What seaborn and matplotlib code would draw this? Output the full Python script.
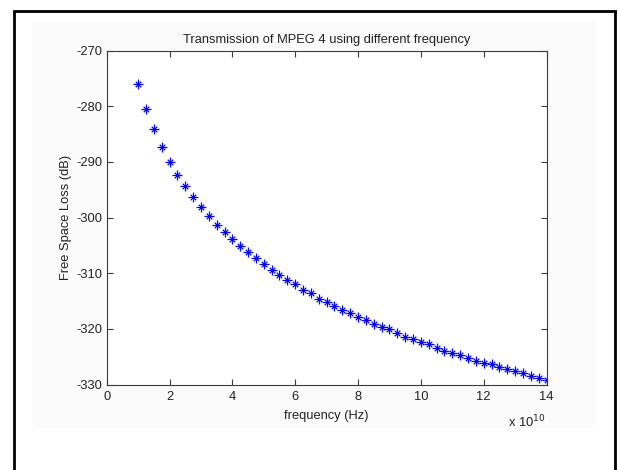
import matplotlib
matplotlib.use("Agg")
import matplotlib.pyplot as plt
import seaborn as sns
from matplotlib.patches import Rectangle

# frequency in units of 1e10 Hz
freq_e10 = [1.00, 1.25, 1.50, 1.75, 2.00, 2.25, 2.50, 2.75, 3.00, 3.25,
            3.50, 3.75, 4.00, 4.25, 4.50, 4.75, 5.00, 5.25, 5.50, 5.75,
            6.00, 6.25, 6.50, 6.75, 7.00, 7.25, 7.50, 7.75, 8.00, 8.25,
            8.50, 8.75, 9.00, 9.25, 9.50, 9.75, 10.00, 10.25, 10.50, 10.75,
            11.00, 11.25, 11.50, 11.75, 12.00, 12.25, 12.50, 12.75, 13.00, 13.25,
            13.50, 13.75, 14.00]
loss_db = [-276.0, -280.5, -284.1, -287.3, -290.0, -292.3, -294.3, -296.4, -298.1, -299.7,
           -301.3, -302.6, -303.9, -305.2, -306.2, -307.3, -308.3, -309.4, -310.4, -311.2,
           -312.0, -313.0, -313.6, -314.6, -315.2, -315.9, -316.6, -317.1, -317.9, -318.4,
           -319.2, -319.6, -320.1, -320.7, -321.4, -321.8, -322.3, -322.8, -323.4, -323.9,
           -324.3, -324.7, -325.2, -325.7, -326.1, -326.4, -326.9, -327.3, -327.6, -328.0,
           -328.5, -328.8, -329.2]

x_ticks = [0, 2, 4, 6, 8, 10, 12, 14]
y_ticks = [-330, -320, -310, -300, -290, -280, -270]

sns.set_style("ticks")
plt.rcParams['font.family'] = ['Liberation Sans', 'DejaVu Sans']
plt.rcParams['axes.unicode_minus'] = False

FS = 9.3
TXT = '#222222'
W, H = 618, 470
fig = plt.figure(figsize=(W / 100, H / 100), dpi=100)

# faint grey figure panel behind the axes (pasted matlab figure)
fig.patches.append(Rectangle((33 / W, 1 - 428 / H), (597 - 33) / W, (428 - 22) / H,
                             transform=fig.transFigure, fc='#fbfbfb', ec='none', zorder=-1))

ax = fig.add_axes([106.7 / W, 1 - 384.5 / H, (546.5 - 106.7) / W, (384.5 - 50.5) / H])
ax.set_facecolor('white')

# matlab-style '*' marker: a plus with a smaller x on top
sns.scatterplot(x=freq_e10, y=loss_db, marker='+', s=42, color='blue',
                linewidth=0.9, ax=ax, legend=False)
sns.scatterplot(x=freq_e10, y=loss_db, marker='x', s=16, color='blue',
                linewidth=0.9, ax=ax, legend=False)

ax.set_xlim(0, 14)
ax.set_ylim(-330, -270)
ax.set_xticks(x_ticks)
ax.set_yticks(y_ticks)
ax.tick_params(direction='in', top=True, right=True, length=4, width=0.8,
               labelsize=FS, pad=3, color='#3c3c3c', labelcolor=TXT)
ax.tick_params(axis='x', pad=5)
for sp in ax.spines.values():
    sp.set_visible(True)
    sp.set_color('#3c3c3c')
    sp.set_linewidth(0.8)

ax.set_title('Transmission of MPEG 4 using different frequency', fontsize=FS,
             pad=5.5, color=TXT)
ax.set_xlabel('frequency (Hz)', fontsize=FS, labelpad=5, color=TXT)
ax.set_ylabel('Free Space Loss (dB)', fontsize=FS, labelpad=3, color=TXT)
ax.text(0.997, -0.112, r'x 10$^{10}$', transform=ax.transAxes, ha='right',
        va='center', fontsize=FS, color=TXT)

# outer frame
fig.patches.append(Rectangle((14 / W, -0.05), (615 - 14) / W, 1 - 11 / H + 0.05,
                             transform=fig.transFigure, fill=False, lw=2, ec='black'))

fig.savefig('out.png', dpi=100)
